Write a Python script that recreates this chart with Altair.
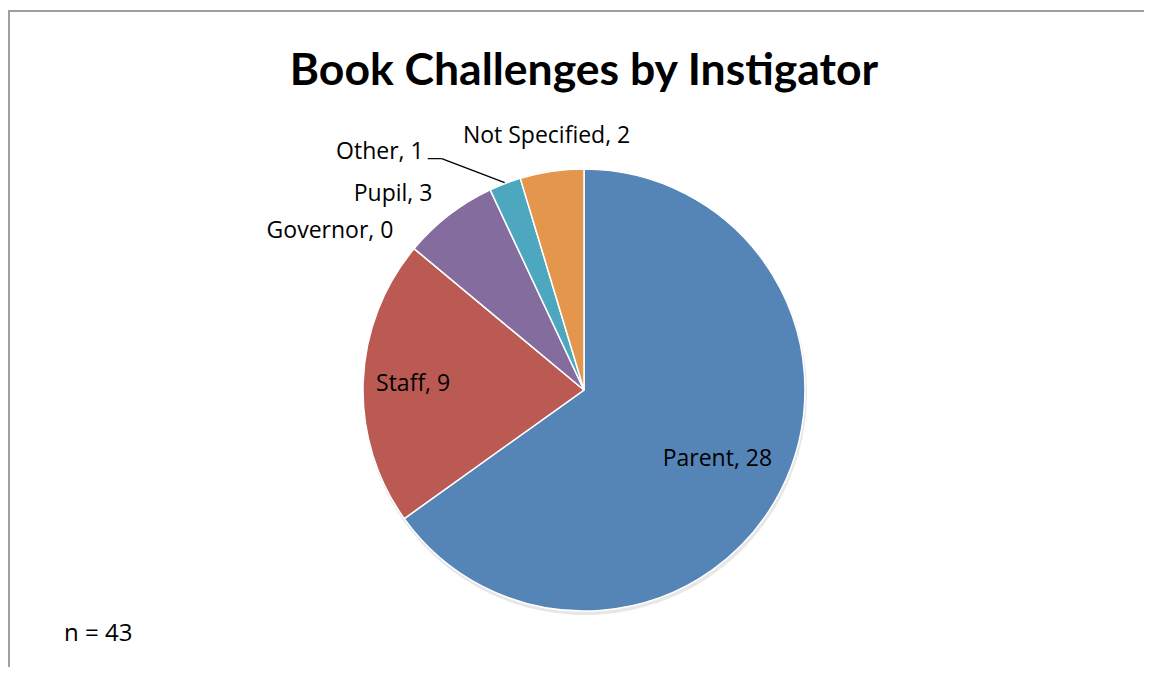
import altair as alt
import pandas as pd

# ---- data ----
categories = ["Parent", "Staff", "Governor", "Pupil", "Other", "Not Specified"]
values = [28, 9, 0, 3, 1, 2]
colors = ["#5585B7", "#BA5A53", "#9BBB59", "#856C9E", "#4DA7BF", "#E4964D"]
title_text = "Book Challenges by Instigator"
total = sum(values)
note_text = f"n = {total}"

df = pd.DataFrame({"cat": categories, "value": values,
                   "order": list(range(len(categories)))})

# ---- layout ----
W, H = 1136, 659
CX, CY = 576, 382
R = 221
FONT = "Open Sans"
LBL = 23

theta_scale = alt.Scale(domain=[0, total])
base = alt.Chart(df)

shadow = base.mark_arc(radius=R + 1, color="#d0d0d0", opacity=0.5).encode(
    theta=alt.Theta("value:Q", stack=True, scale=theta_scale),
    order=alt.Order("order:Q"),
    x=alt.value(CX + 1), y=alt.value(CY + 3),
)

pie = base.mark_arc(radius=R, stroke="white", strokeWidth=1.5).encode(
    theta=alt.Theta("value:Q", stack=True, scale=theta_scale),
    color=alt.Color("cat:N", scale=alt.Scale(domain=categories, range=colors), legend=None),
    order=alt.Order("order:Q"),
    x=alt.value(CX), y=alt.value(CY),
)

lab = base.transform_joinaggregate(tot="sum(value)").transform_window(
    cum="sum(value)", sort=[alt.SortField("order")], frame=[None, 0]
).transform_calculate(
    mid="datum.cum - datum.value/2",
    label="datum.cat + ', ' + datum.value",
    ang="2*PI*(datum.cum - datum.value/2)/datum.tot",
)


def polar_text(cats, radius, align="center"):
    return lab.transform_filter(alt.FieldOneOfPredicate(field="cat", oneOf=cats)).mark_text(
        radius=radius, font=FONT, fontSize=LBL, color="black", align=align, baseline="middle"
    ).encode(
        theta=alt.Theta("mid:Q", scale=theta_scale),
        text="label:N",
        x=alt.value(CX), y=alt.value(CY),
    )


t_parent = polar_text(["Parent"], 150)
t_staff = polar_text(["Staff"], 171)
t_left = polar_text(["Governor", "Pupil"], 248, align="right")
t_ns = polar_text(["Not Specified"], 257)

# leader-line label for "Other"
other = lab.transform_filter(alt.datum.cat == "Other").transform_calculate(
    px=f"{CX} + {R + 1}*sin(datum.ang)",
    py=f"{CY} - {R + 1}*cos(datum.ang)",
).transform_calculate(
    ex="datum.px - 63", ey="datum.py - 24",
).transform_calculate(
    hx="datum.ex - 14", lx="datum.ex - 18", ly="datum.ey - 7",
)
lead1 = other.mark_rule(color="black", strokeWidth=1.2).encode(
    x=alt.X("px:Q", scale=None), y=alt.Y("py:Q", scale=None),
    x2="ex:Q", y2="ey:Q",
)
lead2 = other.mark_rule(color="black", strokeWidth=1.2).encode(
    x=alt.X("hx:Q", scale=None), x2="ex:Q", y=alt.Y("ey:Q", scale=None),
)
t_other = other.mark_text(font=FONT, fontSize=LBL, color="black", align="right",
                          baseline="middle").encode(
    x=alt.X("lx:Q", scale=None), y=alt.Y("ly:Q", scale=None), text="label:N",
)

one = alt.Chart(pd.DataFrame({"t": [title_text], "n": [note_text]}))
title = one.mark_text(font="Lato", fontSize=44.5, fontWeight="bold", color="black",
                      align="center", baseline="alphabetic").encode(
    text="t:N", x=alt.value(CX), y=alt.value(77))
note = one.mark_text(font=FONT, fontSize=24, color="black", align="left",
                     baseline="middle").encode(
    text="n:N", x=alt.value(56), y=alt.value(626))

frame_top = one.mark_rule(color="#a0a0a0", strokeWidth=2).encode(
    x=alt.value(0), x2=alt.value(W), y=alt.value(3))
frame_left = one.mark_rule(color="#a0a0a0", strokeWidth=2).encode(
    x=alt.value(1), y=alt.value(3), y2=alt.value(H))

chart = alt.layer(
    frame_top, frame_left, shadow, pie, t_parent, t_staff, t_left, t_ns,
    lead1, lead2, t_other, title, note,
).properties(
    width=W, height=H, autosize="none", padding=0
).configure_view(stroke=None)

chart.save("out.html", embed_options={"renderer": "svg", "actions": False})
